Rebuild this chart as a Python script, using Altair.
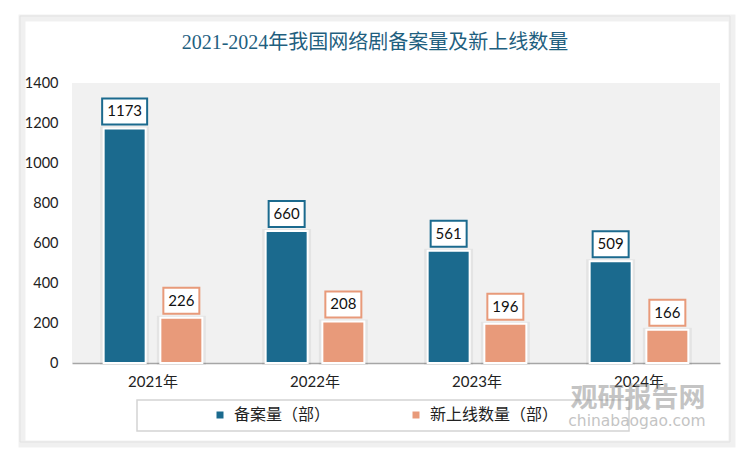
import altair as alt
import pandas as pd

years = ["2021年", "2022年", "2023年", "2024年"]
filed = [1173, 660, 561, 509]
launched = [226, 208, 196, 166]
series = ["备案量（部）", "新上线数量（部）"]
colors = ["#1b6a8e", "#e89a7a"]
title_text = "2021-2024年我国网络剧备案量及新上线数量"
y_ticks = [0, 200, 400, 600, 800, 1000, 1200, 1400]

rows = []
for i, yr in enumerate(years):
    rows.append({"year": yr, "series": series[0], "value": filed[i]})
    rows.append({"year": yr, "series": series[1], "value": launched[i]})
df = pd.DataFrame(rows)

W, H = 648, 280
one = alt.Data(values=[{"k": 1}])

x_axis = alt.Axis(title=None, labelAngle=0, labelFont="Lato, Noto Sans CJK SC",
                  labelFontSize=15, labelColor="#222", labelPadding=11,
                  ticks=False, domainColor="#a6a6a6", domainWidth=1.5)
y_axis = alt.Axis(title=None, values=y_ticks, format="d", grid=False, domain=False,
                  ticks=False, labelFont="Lato", labelFontSize=14.5,
                  labelColor="#222", labelPadding=14)
x_enc = alt.X("year:N", sort=years,
              scale=alt.Scale(paddingInner=0.3, paddingOuter=0.15), axis=x_axis)
xo_enc = alt.XOffset("series:N", sort=series,
                     scale=alt.Scale(domain=series, paddingInner=0, paddingOuter=0))
y_scale = alt.Scale(domain=[0, 1400], nice=False)
color_scale = alt.Scale(domain=series, range=colors)

# decorative frame and shadow
shadow = alt.Chart(one).mark_rect(fill="white", fillOpacity=0, stroke="#000",
                                  strokeOpacity=0.06, strokeWidth=7).encode(
    x=alt.value(-50), x2=alt.value(660), y=alt.value(-65), y2=alt.value(361))
frame = alt.Chart(one).mark_rect(fill="white", fillOpacity=0, stroke="#e2e2e2",
                                 strokeWidth=1).encode(
    x=alt.value(-52), x2=alt.value(658), y=alt.value(-67), y2=alt.value(359))
legend_box = alt.Chart(one).mark_rect(fill="white", stroke="#d4d4d4",
                                      strokeWidth=1.5).encode(
    x=alt.value(65), x2=alt.value(557), y=alt.value(317), y2=alt.value(348))

halo = alt.Chart(df).mark_bar(width=45, fill="white", fillOpacity=0, stroke="#000",
                              strokeOpacity=0.05, strokeWidth=4).encode(
    x=x_enc, xOffset=xo_enc,
    y=alt.Y("value:Q", scale=y_scale, axis=y_axis))

bars = alt.Chart(df).mark_bar(width=42, stroke="white", strokeWidth=2).encode(
    x=x_enc, xOffset=xo_enc,
    y=alt.Y("value:Q", scale=y_scale, axis=y_axis),
    color=alt.Color("series:N", scale=color_scale, sort=series,
                    legend=alt.Legend(title=None, orient="none", legendX=140, legendY=324,
                                      direction="horizontal", symbolType="square",
                                      symbolSize=49, symbolStrokeWidth=0,
                                      labelFont="Noto Sans CJK SC", labelFontSize=16,
                                      labelColor="#222", labelOffset=6,
                                      columnPadding=45, gridAlign="all", padding=0)))

boxes = alt.Chart(df).transform_calculate(
    lo="datum.value + 20", hi="datum.value + 150",
    bw="length(toString(datum.value)) * 9 + 9"
).mark_bar(fill="white", strokeWidth=2).encode(
    x=x_enc, xOffset=xo_enc,
    y=alt.Y("lo:Q", scale=y_scale, axis=y_axis), y2="hi:Q",
    size=alt.Size("bw:Q", scale=None, legend=None),
    stroke=alt.Stroke("series:N", scale=color_scale, legend=None))

labels = alt.Chart(df).transform_calculate(mid="datum.value + 85").mark_text(
    font="Lato", fontSize=15, color="#111", baseline="middle").encode(
    x=x_enc, xOffset=xo_enc,
    y=alt.Y("mid:Q", scale=y_scale, axis=y_axis),
    text="value:Q")

title = alt.Chart(one).mark_text(text=title_text, font="Liberation Serif, Noto Sans CJK SC",
                                 fontSize=20, color="#1f5f7f", baseline="middle",
                                 align="center").encode(
    x=alt.value(303), y=alt.value(-40))

wm1 = alt.Chart(one).mark_text(text="观研报告网", font="Noto Sans CJK SC", fontSize=27,
                               fontWeight="bold", color="#8a8a8a", opacity=0.5,
                               baseline="middle", align="center").encode(
    x=alt.value(566), y=alt.value(316))
wm2 = alt.Chart(one).mark_text(text="chinabaogao.com", font="DejaVu Sans", fontSize=15.5,
                               color="#8a8a8a", opacity=0.5,
                               baseline="middle", align="center").encode(
    x=alt.value(565), y=alt.value(338))

chart = alt.layer(shadow, frame, legend_box, halo, bars, boxes, labels, title, wm1, wm2).properties(
    width=W, height=H,
    padding={"left": 64, "top": 75, "right": 22, "bottom": 88},
    autosize=alt.AutoSizeParams(type="none"),
    background="white",
).configure_view(fill="#f1f1f1", strokeWidth=0)

chart.save("out.html", embed_options={"renderer": "svg", "actions": False})
